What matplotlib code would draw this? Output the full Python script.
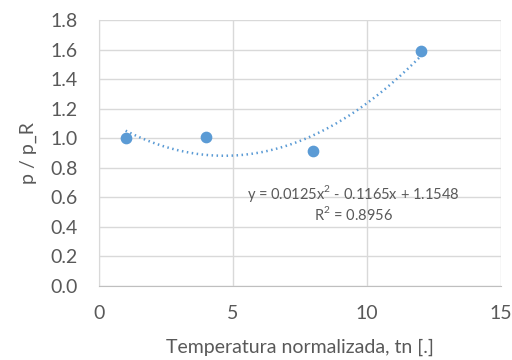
import matplotlib
matplotlib.use('Agg')
import matplotlib.pyplot as plt
import numpy as np

# data
tn = [1, 4, 8, 12]
p_ratio = [1.0, 1.01, 0.915, 1.59]
eq_text = 'y = 0.0125x$^2$ - 0.1165x + 1.1548'
r2_text = 'R$^2$ = 0.8956'

blue = '#5B9BD5'
grey = '#595959'
grid = '#D9D9D9'

plt.rcParams['font.family'] = ['Lato', 'DejaVu Sans']
plt.rcParams['mathtext.fontset'] = 'custom'
plt.rcParams['mathtext.rm'] = 'Lato'

fig = plt.figure(figsize=(5.12, 3.6), dpi=100)
ax = fig.add_axes([0.193, 0.206, 0.786, 0.738])

ax.scatter(tn, p_ratio, s=55, color=blue, zorder=3)

# 2nd order trendline, fitted on the points
coef = np.polyfit(tn, p_ratio, 2)
xs = np.linspace(min(tn), max(tn), 200)
ax.plot(xs, np.polyval(coef, xs), color=blue, lw=1.8, ls=(0, (0.6, 1.4)), zorder=2)

ax.text(9.5, 0.625, eq_text, ha='center', va='center', fontsize=10.5, color=grey)
ax.text(9.5, 0.49, r2_text, ha='center', va='center', fontsize=10.5, color=grey)

ax.set_xlim(0, 15)
ax.set_ylim(0, 1.8)
ax.set_xticks([0, 5, 10, 15])
ax.set_yticks(np.arange(0, 1.81, 0.2))
ax.yaxis.set_major_formatter(matplotlib.ticker.FormatStrFormatter('%.1f'))
ax.grid(True, color=grid, lw=1)
ax.set_axisbelow(True)
ax.tick_params(length=0, labelsize=14, colors=grey)
ax.tick_params(axis='x', pad=14)
ax.tick_params(axis='y', pad=15)
for s in ['top', 'right']:
    ax.spines[s].set_visible(False)
ax.spines['left'].set_color(grid)
ax.spines['bottom'].set_color('#BFBFBF')

ax.set_xlabel('Temperatura normalizada, tn [.]', fontsize=14, color=grey, labelpad=12)
ax.set_ylabel('p / p_R', fontsize=14, color=grey, labelpad=10)

fig.savefig('out.png', dpi=100)
